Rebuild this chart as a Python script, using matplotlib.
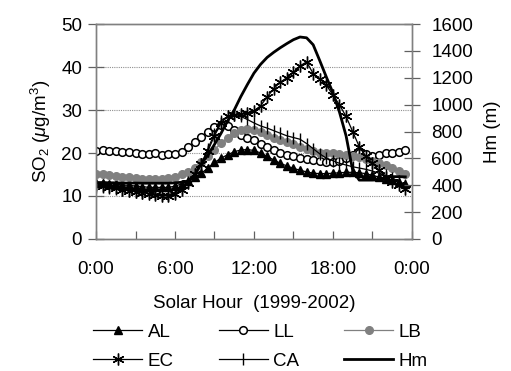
import numpy as np
import matplotlib
matplotlib.use("Agg")
import matplotlib.pyplot as plt
from matplotlib.ticker import FixedLocator

plt.rcParams['font.family'] = ['Liberation Sans', 'DejaVu Sans']
plt.rcParams['mathtext.fontset'] = 'custom'
plt.rcParams['mathtext.rm'] = 'Liberation Sans'
plt.rcParams['mathtext.it'] = 'Liberation Sans:italic'

hours = np.arange(0, 24, 0.5)

AL = [13.0, 13.0, 12.8, 12.8, 12.5, 12.5, 12.3, 12.2, 12.0, 12.0, 12.0, 12.0,
      12.3, 12.8, 13.5, 14.3, 15.3, 16.5, 17.8, 18.8, 19.6, 20.3, 20.7, 20.8,
      20.6, 20.0, 19.2, 18.4, 17.6, 17.0, 16.4, 16.0, 15.6, 15.3, 15.2, 15.2,
      15.3, 15.4, 15.5, 15.5, 15.4, 15.2, 14.8, 14.4, 14.0, 13.6, 13.2, 12.8]
LL = [20.5, 20.6, 20.5, 20.5, 20.3, 20.2, 20.0, 19.8, 19.7, 20.0, 19.5, 19.8,
      19.8, 20.2, 21.3, 22.5, 23.8, 25.0, 26.0, 26.5, 26.4, 25.3, 24.2, 23.4,
      23.0, 22.2, 21.4, 20.6, 20.0, 19.6, 19.2, 18.9, 18.7, 18.4, 18.2, 18.0,
      17.8, 18.2, 18.8, 19.6, 20.0, 19.7, 19.3, 19.5, 20.0, 20.0, 20.2, 20.7]
LB = [15.2, 15.0, 14.8, 14.6, 14.5, 14.3, 14.2, 14.0, 14.0, 13.9, 14.0, 14.2,
      14.5, 15.0, 15.6, 16.5, 17.8, 19.3, 20.8, 22.3, 23.6, 24.6, 25.3, 25.6,
      25.3, 24.8, 24.2, 23.6, 23.0, 22.5, 22.0, 21.4, 20.9, 20.4, 20.1, 20.0,
      19.9, 19.8, 19.6, 19.4, 19.0, 18.6, 18.1, 17.6, 17.1, 16.5, 15.9, 15.2]
EC = [12.5, 12.3, 12.0, 11.8, 11.5, 11.2, 11.0, 10.8, 10.5, 10.2, 10.0, 10.0,
      10.5, 11.5, 13.0, 15.0, 17.5, 20.5, 24.0, 27.0, 28.5, 28.8, 29.0, 29.3,
      29.8, 31.0, 33.0, 35.0, 36.5, 37.5, 38.8, 40.3, 41.2, 38.5, 37.3, 35.8,
      33.5, 31.2, 28.5, 25.0, 21.5, 19.3, 17.6, 16.0, 14.5, 13.2, 12.5, 11.6]
CA = [12.0, 12.0, 11.8, 11.6, 11.4, 11.2, 11.0, 10.8, 10.6, 10.5, 10.3, 10.3,
      10.8, 11.8, 13.2, 15.0, 17.5, 21.0, 24.5, 27.5, 28.5, 28.8, 28.5, 27.8,
      27.0, 26.3, 25.8, 25.2, 24.6, 24.0, 23.6, 23.2, 22.2, 21.0, 19.8, 18.8,
      18.2, 17.6, 17.2, 16.8, 16.5, 16.2, 15.8, 15.3, 14.8, 14.2, 13.4, 12.5]
Hm = [420, 420, 418, 418, 416, 416, 416, 415, 415, 415, 415, 415, 418, 422,
      432, 480, 560, 624, 704, 787, 880, 960, 1060, 1150, 1235, 1300, 1352, 1390,
      1424, 1455, 1484, 1504, 1498, 1446, 1328, 1206, 1088, 944, 768, 512,
      438, 438, 438, 440, 460, 464, 464, 462]

xtick_pos = [0, 6, 12, 18, 24]
xtick_labels = ['0:00', '6:00', '12:00', '18:00', '0:00']

fs = 13.5
fig = plt.figure(figsize=(5.11, 3.71), dpi=100)
ax = fig.add_axes([0.188, 0.356, 0.618, 0.579])
ax2 = ax.twinx()

lw = 0.9
lAL, = ax.plot(hours, AL, color='black', lw=lw, marker='^', ms=5.5, mfc='black', mec='black', label='AL')
lLL, = ax.plot(hours, LL, color='black', lw=lw, marker='o', ms=5.5, mfc='white', mec='black', mew=1.1, label='LL')
lLB, = ax.plot(hours, LB, color='#808080', lw=lw, marker='o', ms=5.5, mfc='#808080', mec='#808080', label='LB')
lEC, = ax.plot(hours, EC, color='black', lw=lw, marker=(6, 2, 0), ms=8.5, mec='black', mew=1.0, label='EC')
lCA, = ax.plot(hours, CA, color='black', lw=lw, marker='|', ms=8.5, mec='black', mew=1.0, label='CA')
lHm, = ax2.plot(hours, Hm, color='black', lw=2.0, label='Hm')

ax.set_xlim(0, 24)
ax.set_ylim(0, 50)
ax2.set_ylim(0, 1600)
ax.set_yticks([0, 10, 20, 30, 40, 50])
ax2.set_yticks(np.arange(0, 1601, 200))
ax.xaxis.set_major_locator(FixedLocator(xtick_pos))
ax.set_xticklabels(xtick_labels)
ax.xaxis.set_minor_locator(FixedLocator([3, 9, 15, 21]))

for y in [10, 20, 30, 40]:
    ax.axhline(y, color='#909090', lw=0.8, ls=(0, (1, 1)), zorder=0)

spc = '#808080'
for a in (ax, ax2):
    for s in a.spines.values():
        s.set_color(spc)
        s.set_linewidth(1.0)

ax.tick_params(axis='y', direction='inout', length=12, width=0.9, color='#606060', labelsize=fs, pad=4)
ax.tick_params(axis='x', which='both', direction='in', length=6, width=0.9, color='#606060', labelsize=fs, pad=16)
ax2.tick_params(axis='y', direction='inout', length=12, width=0.9, color='#606060', labelsize=fs, pad=8)

ax.set_ylabel('SO$_2$ ($\\mu$g/m$^3$)', fontsize=fs, labelpad=6)
ax2.set_ylabel('Hm (m)', fontsize=fs, labelpad=8)
ax.set_xlabel('Solar Hour  (1999-2002)', fontsize=fs, labelpad=12)

handles = [lAL, lEC, lLL, lCA, lLB, lHm]
labels = [h.get_label() for h in handles]
fig.legend(handles, labels, loc='lower center', bbox_to_anchor=(0.51, 0.003), ncol=3,
           frameon=False, fontsize=fs, handlelength=2.6, handletextpad=0.3,
           columnspacing=2.4, labelspacing=0.65, borderaxespad=0.0, borderpad=0.0)

fig.savefig('out.png', dpi=100)
